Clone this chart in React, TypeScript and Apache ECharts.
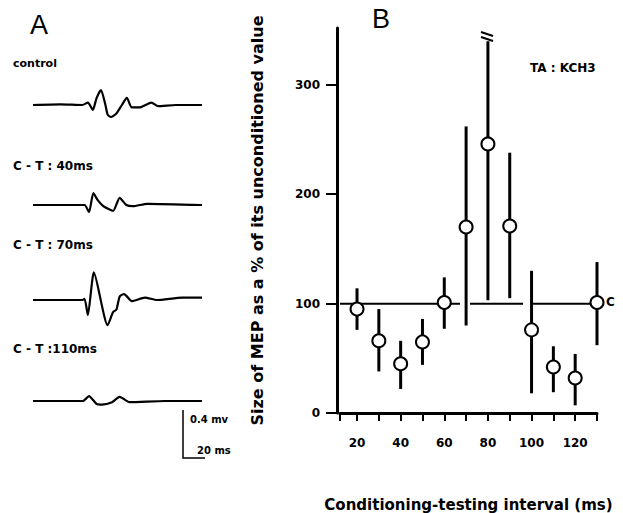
import React, { useEffect, useRef } from "react";
import * as echarts from "echarts";

// ---------- Panel B data ----------
const intervals = [20, 30, 40, 50, 60, 70, 80, 90, 100, 110, 120, 130];
const meanPct = [95, 66, 45, 65, 101, 170, 246, 171, 76, 42, 32, 101];
const lowPct = [76, 38, 22, 44, 77, 80, 103, 105, 18, 19, 7, 62];
const highPct = [114, 95, 66, 86, 124, 262, 340, 238, 130, 61, 54, 138];
const xTickValues = [12.2, 20, 30, 40, 50, 60, 70, 80, 90, 100, 110, 120, 130];
const xLabelValues = [20, 40, 60, 80, 100, 120];
const yTickValues = [0, 100, 200, 300];
// reference (control) level line, with the small gaps seen in the figure
const controlLine: any[] = [[12.2, 100], [67.2, 100], [69.5, "-"], [71.8, 100], [96.1, 100], [98.5, "-"], [100.7, 100], [130, 100]];

// ---------- Panel A traces: [time ms, amplitude mV] ----------
const controlTrace = [[0, 0], [25, 0.005], [45, 0], [50, 0.02], [54.5, -0.04], [58, 0.06], [62, 0.125], [66, 0], [68, -0.08], [71, -0.1], [76, -0.07], [81, 0], [85.5, 0.06], [90, -0.02], [97, -0.02], [108, 0.02], [114, -0.01], [130, 0], [154, 0]];
const trace40 = [[0, 0], [30, 0], [47, 0], [51, -0.06], [55, 0.1], [59, 0.04], [64, -0.01], [68, -0.03], [73, -0.05], [79, 0.06], [85, 0], [91, -0.01], [104, 0.01], [154, 0]];
const trace70 = [[0, 0], [30, 0], [45, 0], [47, 0.01], [50, -0.125], [55.5, 0.23], [68, -0.21], [73, -0.1], [76, -0.08], [79, 0.03], [83, 0.05], [85.5, 0.03], [90, -0.01], [102, 0.02], [113, 0], [136, 0.02], [154, 0.02]];
const trace110 = [[0, 0], [30, 0], [45.5, 0], [51, 0.04], [58, -0.025], [63, -0.03], [72, -0.01], [79, 0.035], [88, -0.01], [120, 0], [154, 0]];
const traceLabels = ["control", "C - T : 40ms", "C - T : 70ms", "C - T :110ms"];

const FONT = "DejaVu Sans";

export default function App() {
  const ref = useRef<HTMLDivElement>(null);
  useEffect(() => {
    if (!ref.current) return;
    const chart = echarts.init(ref.current, null, { renderer: "svg" });
    const traces = [controlTrace, trace40, trace70, trace110];
    const traceTops = [65, 165, 260, 361];
    const labelY = [63, 166, 245, 349];

    const grids: any[] = [{ left: 340, top: 28, width: 257, height: 385, outerBoundsMode: "none", containLabel: false }];
    const xAxes: any[] = [
      {
        type: "value", gridIndex: 0, min: 12.2, max: 130, offset: 10,
        splitLine: { show: false },
        axisLine: { show: true, lineStyle: { color: "#000", width: 3 } },
        axisTick: { show: true, customValues: xTickValues, length: 8, lineStyle: { color: "#000", width: 2 } },
        axisLabel: { customValues: xLabelValues, margin: 14, color: "#000", fontFamily: FONT, fontWeight: "bold", fontSize: 12 },
        name: "Conditioning-testing interval (ms)", nameLocation: "middle", nameGap: 74,
        nameTextStyle: { color: "#000", fontFamily: FONT, fontWeight: "bold", fontSize: 15 },
      },
    ];
    const yAxes: any[] = [
      {
        type: "value", gridIndex: 0, min: 0, max: 352, offset: 3,
        splitLine: { show: false },
        axisLine: { show: true, lineStyle: { color: "#000", width: 3 } },
        axisTick: { show: true, customValues: yTickValues, length: 11, lineStyle: { color: "#000", width: 2 } },
        axisLabel: { customValues: yTickValues, margin: 17, color: "#000", fontFamily: FONT, fontWeight: "bold", fontSize: 12 },
        name: "Size of MEP as a % of its unconditioned value", nameLocation: "middle", nameGap: 72, nameRotate: 90,
        nameTextStyle: { color: "#000", fontFamily: FONT, fontWeight: "bold", fontSize: 16 },
      },
    ];
    const series: any[] = [
      {
        type: "line", xAxisIndex: 0, yAxisIndex: 0, data: controlLine, showSymbol: false, clip: false,
        lineStyle: { color: "#000", width: 2 }, z: 1,
      },
      {
        type: "custom", xAxisIndex: 0, yAxisIndex: 0, z: 2,
        data: intervals.map((x, i) => [x, lowPct[i], highPct[i]]),
        encode: { x: 0, y: [1, 2] },
        renderItem: (params: any, api: any) => {
          const x = api.value(0);
          const p1 = api.coord([x, api.value(1)]);
          const p2 = api.coord([x, api.value(2)]);
          return {
            type: "line",
            shape: { x1: p1[0], y1: p1[1], x2: p2[0], y2: p2[1] },
            style: { stroke: "#000", lineWidth: 3 },
          };
        },
      },
      {
        type: "scatter", xAxisIndex: 0, yAxisIndex: 0, z: 3,
        data: intervals.map((x, i) => [x, meanPct[i]]),
        symbol: "circle", symbolSize: 13,
        itemStyle: { color: "#fff", borderColor: "#000", borderWidth: 2, opacity: 1 },
      },
    ];

    traces.forEach((tr, k) => {
      grids.push({ left: 33, top: traceTops[k], width: 169, height: 80, outerBoundsMode: "none", containLabel: false });
      xAxes.push({ type: "value", gridIndex: k + 1, min: 0, max: 154, show: false });
      yAxes.push({ type: "value", gridIndex: k + 1, min: -0.3333, max: 0.3333, show: false });
      series.push({
        type: "line", xAxisIndex: k + 1, yAxisIndex: k + 1, data: tr, showSymbol: false,
        smooth: 0.2, clip: false, lineStyle: { color: "#000", width: 2.2 },
      });
    });

    const txt = (x: number, y: number, text: string, size: number, extra: any = {}) => ({
      type: "text", x, y,
      style: { text, fill: "#000", fontFamily: FONT, fontWeight: "bold", fontSize: size, textVerticalAlign: "middle", ...extra },
    });

    const graphic: any[] = [
      txt(30, 25, "A", 27, { fontFamily: "Liberation Sans", fontWeight: "normal" }),
      txt(372, 19, "B", 27, { fontFamily: "Liberation Sans", fontWeight: "normal" }),
      txt(530, 68, "TA : KCH3", 12),
      txt(606, 302, "C", 12),
      ...traceLabels.map((t, k) => txt(13, labelY[k], t, k === 0 ? 11 : 12)),
      txt(190, 419, "0.4 mv", 10),
      txt(197, 450, "20 ms", 10),
      { type: "polyline", shape: { points: [[183, 410], [183, 458], [205, 458]] }, style: { stroke: "#000", lineWidth: 1.5, fill: null } },
      { type: "line", shape: { x1: 481, y1: 32, x2: 493, y2: 36 }, style: { stroke: "#000", lineWidth: 2 } },
      { type: "line", shape: { x1: 481, y1: 37, x2: 493, y2: 41 }, style: { stroke: "#000", lineWidth: 2 } },
    ];

    chart.setOption({
      animation: false,
      backgroundColor: "#fff",
      grid: grids,
      xAxis: xAxes,
      yAxis: yAxes,
      series,
      graphic,
    });
    return () => chart.dispose();
  }, []);
  return <div ref={ref} style={{ position: "fixed", left: 0, top: 0, width: 623, height: 513 }} />;
}
